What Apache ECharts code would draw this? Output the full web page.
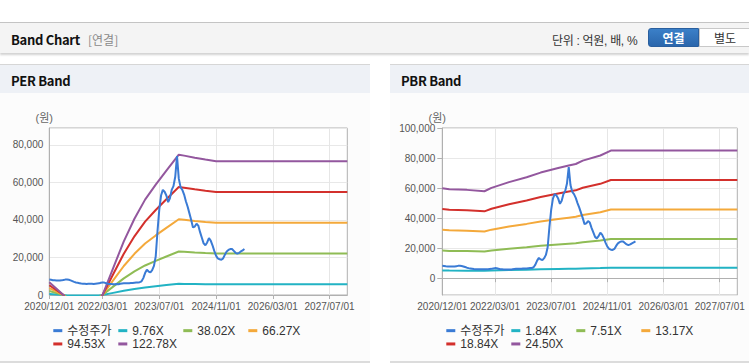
<!DOCTYPE html>
<html><head><meta charset="utf-8">
<script src="https://cdn.jsdelivr.net/npm/echarts@6/dist/echarts.min.js"></script>
<style>
html,body{margin:0;padding:0;background:#fff;width:749px;height:364px;overflow:hidden;font-family:'Liberation Sans','Noto Sans CJK KR',sans-serif;}
.topbar{position:absolute;left:0;top:22px;width:749px;height:30px;background:#f4f4f4;border-top:1px solid #c4c4c4;box-shadow:0 2px 2px rgba(0,0,0,0.18);}
.ttl{position:absolute;left:11px;top:7px;font-size:13px;font-weight:bold;color:#111;font-family:'Noto Sans CJK KR','Liberation Sans',sans-serif;letter-spacing:-0.3px;}
.sub{position:absolute;left:88px;top:8px;font-size:12px;color:#8a8a8a;font-family:'Noto Sans CJK KR',sans-serif;}
.unit{position:absolute;left:552px;top:8px;font-size:12px;color:#333;font-family:'Liberation Sans','Noto Sans CJK KR',sans-serif;letter-spacing:-0.3px;}
.btn1{position:absolute;left:648px;top:5px;width:51px;height:19px;background:linear-gradient(#3b80c8,#2a66ac);border:1px solid #2a5f9e;border-radius:3px 0 0 3px;color:#fff;font-weight:bold;font-size:12px;text-align:center;line-height:17px;font-family:'Noto Sans CJK KR',sans-serif;box-sizing:border-box;}
.btn2{position:absolute;left:699px;top:5px;width:52px;height:19px;background:#fff;border:1px solid #c8c8c8;color:#333;font-size:12px;text-align:center;line-height:17px;font-family:'Noto Sans CJK KR',sans-serif;box-sizing:border-box;}
.panel{position:absolute;top:64px;height:297px;background:#fcfcfc;border-bottom:2px solid #dcdcdc;}
.phead{position:absolute;left:0;top:0;right:0;height:28px;background:#eef1f6;border-top:1px solid #d6d6d6;}
.phead span{position:absolute;left:11px;top:6px;font-size:13px;font-weight:bold;color:#111;font-family:'Noto Sans CJK KR','Liberation Sans',sans-serif;letter-spacing:-0.3px;}
.chart{position:absolute;top:30px;left:0;right:0;height:268px;}
</style></head>
<body>
<div class="topbar"><div class="ttl">Band Chart</div><div class="sub">[연결]</div><div class="unit">단위 : 억원, 배, %</div><div class="btn1">연결</div><div class="btn2">별도</div></div>
<div class="panel" style="left:0;width:370px;"><div class="phead"><span>PER Band</span></div><div class="chart" id="per"></div></div>
<div class="panel" style="left:390px;width:359px;"><div class="phead"><span>PBR Band</span></div><div class="chart" id="pbr"></div></div>
<script>
// x-axis tick labels
const xTickLabels = ['2020/12/01','2022/03/01','2023/07/01','2024/11/01','2026/03/01','2027/07/01'];
// half-month categories 2020/12/01 .. 2027/12/01
const categories = [];
for (let y = 2020, mo = 12; y < 2027 || (y === 2027 && mo <= 12); ) {
  const mm = (mo < 10 ? '0' : '') + mo;
  categories.push(y + '/' + mm + '/01');
  if (!(y === 2027 && mo === 12)) categories.push(y + '/' + mm + '/16');
  mo++; if (mo > 12) { mo = 1; y++; }
}
// adjusted share price (수정주가), half-monthly from 2020/12/01
const priceValues = [
 8200,8100,7900,7800,7700,7700,7700,7800,8000,8200,
 8300,8100,7800,7400,7000,6700,6500,6300,6100,6000,
 6000,5900,6000,6000,6000,5900,6000,6100,6200,6500,
 6700,6600,6300,6000,5900,5800,5700,5700,5800,5700,
 6000,6100,6200,6200,6300,6300,6400,6400,6500,6600,
 6700,6800,7300,9000,11700,13500,12500,12000,13300,15500,
 20600,34000,45500,53000,56000,55000,53000,49500,51500,56000,
 58000,63000,74000,62000,57500,56000,53500,50000,47000,43500,
 40000,36000,36500,38000,37000,33500,30500,27500,26500,28000,
 30300,29000,26500,23500,21000,19500,19000,18800,19500,21500,
 23200,24000,24500,24500,23500,22500,22000,22500,23200,23800,
 24500
];
// PER band
const perNames = ['9.76X','38.02X','66.27X','94.53X','122.78X'];
const perBandDates = ['2020/12/01','2021/04/01','2021/05/01','2022/02/01','2022/03/01','2022/06/01','2022/09/01','2022/12/01','2023/03/01','2023/06/01','2023/09/01','2023/12/16','2024/02/01','2024/05/01','2024/08/01','2024/11/01','2027/12/01'];
const perBand1 = [537,0,-293,-293,0,1142,2274,3231,4041,4675,5270,5944,5905,5817,5739,5671,5671];
const perBand2 = [2091,0,-1141,-1141,0,4448,8859,12585,15740,18212,20531,23154,23002,22660,22356,22090,22090];
const perBand3 = [3645,0,-1988,-1988,0,7754,15441,21935,27436,31743,35786,40358,40093,39497,38967,38503,38503];
const perBand4 = [5199,0,-2836,-2836,0,11060,22025,31289,39135,45280,51046,57569,57191,56340,55584,54922,54922];
const perBand5 = [6753,0,-3683,-3683,0,14365,28608,40640,50831,58812,66301,74773,74282,73177,72195,71335,71335];
// PBR band
const pbrNames = ['1.84X','7.51X','13.17X','18.84X','24.50X'];
const pbrBandDates = ['2020/12/01','2021/02/01','2021/07/01','2021/12/01','2022/02/01','2022/07/01','2022/12/01','2023/04/01','2023/09/01','2023/12/01','2024/02/01','2024/04/01','2024/09/01','2024/12/01','2027/12/01'];
const pbrBand1 = [5100,5050,5020,4950,5120,5400,5650,5880,6110,6230,6310,6480,6740,6980,6980];
const pbrBand2 = [18362,18167,18024,17746,18430,19601,20615,21554,22485,22981,23311,23987,25046,26045,26045];
const pbrBand3 = [32201,31858,31608,31121,32319,34374,36152,37798,39431,40300,40880,42065,43922,45674,45674];
const pbrBand4 = [46064,45574,45216,44519,46233,49172,51716,54071,56407,57650,58479,60175,62831,65337,65337];
const pbrBand5 = [59903,59266,58800,57894,60123,63945,67253,70315,73353,74970,76048,78253,81708,84966,84966];

const colors = ['#3a7bd5','#22b3c4','#8fbc55','#f4a93b','#d3302c','#93579e'];
const FONT = "'Liberation Sans','Noto Sans CJK KR',sans-serif";
const showTick = (i, v) => xTickLabels.indexOf(v) >= 0;

function build(names, dates, bands, yCfg, gridLeft, gridRight, yTick) {
  const series = [{
    name: '수정주가', type: 'line', data: priceValues, symbol: 'none', z: 5,
    lineStyle: {width: 2, color: colors[0]}, itemStyle: {color: colors[0]}
  }];
  bands.forEach((b, k) => series.push({
    name: names[k], type: 'line', symbol: 'none', z: 3,
    data: dates.map((d, i) => [d, b[i]]),
    lineStyle: {width: 2, color: colors[k + 1]}, itemStyle: {color: colors[k + 1]}
  }));
  return {
    animation: false,
    backgroundColor: 'transparent',
    grid: {left: gridLeft, right: gridRight, top: 34, height: 167, show: true, borderColor: '#b0b0b0', borderWidth: 1, backgroundColor: '#fff'},
    legend: {
      left: gridLeft + 4, top: 230, width: 262, padding: 0, itemGap: 0,
      icon: 'rect', itemWidth: 9, itemHeight: 3,
      textStyle: {fontSize: 12, color: '#333', fontFamily: FONT, width: 51, lineHeight: 13.3}
    },
    xAxis: {
      type: 'category', data: categories, boundaryGap: false,
      axisLine: {lineStyle: {color: '#b0b0b0'}},
      axisTick: {show: true, interval: showTick, length: 4, lineStyle: {color: '#b0b0b0'}},
      axisLabel: {interval: showTick, margin: 6, fontSize: 10, color: '#555', fontFamily: FONT},
      splitLine: {show: true, interval: showTick, lineStyle: {color: '#e6e6e6'}}
    },
    yAxis: Object.assign({
      type: 'value', name: '(원)', nameLocation: 'end', nameGap: 5,
      nameTextStyle: {fontSize: 11, color: '#666', fontFamily: FONT, padding: [0, 10, 0, 0]},
      axisLine: {show: true, lineStyle: {color: '#b0b0b0'}},
      axisTick: {show: yTick, length: 5, lineStyle: {color: '#b0b0b0'}},
      splitLine: {show: true, lineStyle: {color: '#e8e8e8'}}
    }, yCfg),
    series: series
  };
}

const per = echarts.init(document.getElementById('per'), null, {renderer: 'svg'});
per.setOption(build(perNames, perBandDates, [perBand1, perBand2, perBand3, perBand4, perBand5],
  {min: 0, max: 89000, interval: 20000,
   axisLabel: {showMaxLabel: false, margin: 6, fontSize: 10, color: '#555', fontFamily: FONT,
     formatter: v => v.toLocaleString('en-US')}}, 49.3, 22.7, false));

const pbr = echarts.init(document.getElementById('pbr'), null, {renderer: 'svg'});
pbr.setOption(build(pbrNames, pbrBandDates, [pbrBand1, pbrBand2, pbrBand3, pbrBand4, pbrBand5],
  {min: -11200, max: 100000, splitNumber: 5,
   axisLabel: {showMinLabel: false, margin: 7, fontSize: 10, color: '#555', fontFamily: FONT,
     formatter: v => v.toLocaleString('en-US')}}, 52.3, 11.7, true));
</script>
</body></html>
